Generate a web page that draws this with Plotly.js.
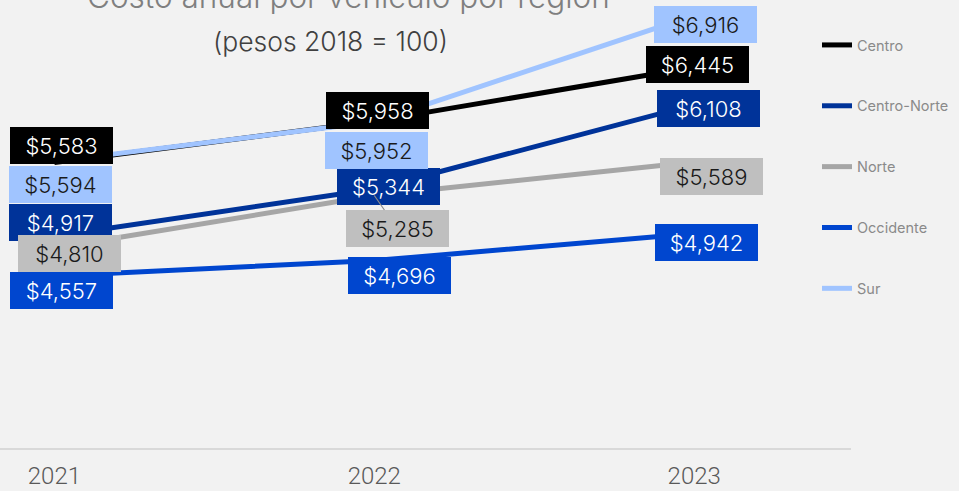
<!DOCTYPE html>
<html>
<head>
<meta charset="utf-8">
<script src="https://cdn.plot.ly/plotly-3.0.1.min.js"></script>
<style>html,body{margin:0;padding:0;background:#f2f2f2;}#chart{width:959px;height:491px;}</style>
</head>
<body>
<div id="chart"></div>
<script>
const years = [2021, 2022, 2023];
const seriesNames = ["Centro", "Centro-Norte", "Norte", "Occidente", "Sur"];
const centro = [5583, 5958, 6445];
const centroNorte = [4917, 5344, 6108];
const norte = [4810, 5285, 5589];
const occidente = [4557, 4696, 4942];
const sur = [5594, 5952, 6916];
const titleText = "Costo anual por vehículo por región";
const subtitleText = "(pesos 2018 = 100)";

const values = [centro, centroNorte, norte, occidente, sur];
const lineColors = ["#000000", "#003399", "#a6a6a6", "#0046cf", "#a0c4ff"];
const boxColors = ["#000000", "#003399", "#bfbfbf", "#0046cf", "#a0c4ff"];
const textColors = ["#ffffff", "#ffffff", "#1a1a1a", "#ffffff", "#1a1a1a"];
// label offsets (px) per series, per year
const offsets = [
  [[7,-17],[3,-11],[3,-3]],
  [[6,-14],[14,-2],[14,4]],
  [[15,5],[23,33],[17,15]],
  [[7,15],[25,15],[12,9]],
  [[6,23],[2,29],[11,9]]
];

const traces = seriesNames.map((n, i) => ({
  x: years, y: values[i], name: n, type: "scatter", mode: "lines",
  line: {color: lineColors[i], width: 5},
  legendgroup: n, hoverinfo: "skip"
}));

const fmt = v => "$" + v.toLocaleString("en-US");
const annotations = [];
seriesNames.forEach((n, i) => {
  years.forEach((yr, j) => {
    const isArrow = (i === 2 && j === 1);
    annotations.push({
      x: yr, y: values[i][j], xref: "x", yref: "y",
      text: fmt(values[i][j]),
      showarrow: true, arrowhead: 0, arrowwidth: 1.2,
      arrowcolor: isArrow ? "#8c8c8c" : "rgba(0,0,0,0)",
      ax: offsets[i][j][0], ay: offsets[i][j][1],
      bgcolor: boxColors[i], borderpad: 0, borderwidth: 0,
      width: 103, height: 37, align: "center", valign: "middle",
      font: {family: "Inter, Roboto, sans-serif", size: 22, color: textColors[i], weight: 300}
    });
  });
});
annotations.push({
  xref: "paper", yref: "paper", x: 348/851, y: (448-7)/442, xanchor: "center", yanchor: "bottom",
  yshift: -11, showarrow: false, text: titleText,
  font: {family: "Inter, sans-serif", size: 31.5, color: "#7f7f7f", weight: 300}
});
annotations.push({
  xref: "paper", yref: "paper", x: 330/851, y: (448-41)/442, xanchor: "center", yanchor: "middle",
  showarrow: false, text: subtitleText,
  font: {family: "Inter, sans-serif", size: 26.5, color: "#404040", weight: 300}
});

const layout = {
  width: 959, height: 491,
  paper_bgcolor: "#f2f2f2", plot_bgcolor: "#f2f2f2",
  margin: {l: 0, r: 108, t: 6, b: 43},
  showlegend: true,
  legend: {
    x: 817/851, y: (448-29)/442, xanchor: "left", yanchor: "top",
    bgcolor: "rgba(0,0,0,0)", tracegroupgap: 39,
    font: {family: "Inter, sans-serif", size: 14.5, color: "#8a8a8a"}
  },
  xaxis: {
    range: [2020.83, 2023.49], tickvals: years, ticktext: years.map(String),
    showgrid: false, zeroline: false, showline: true, linecolor: "#d9d9d9", linewidth: 2,
    ticks: "", ticklabelstandoff: 5,
    tickfont: {family: "Roboto, sans-serif", size: 24, color: "#595959", weight: 300}
  },
  yaxis: {
    range: [3000, 7000], showgrid: false, zeroline: false, showline: false,
    showticklabels: false, ticks: ""
  },
  annotations: annotations
};

Plotly.newPlot("chart", traces, layout, {staticPlot: true, displayModeBar: false});
</script>
</body>
</html>
